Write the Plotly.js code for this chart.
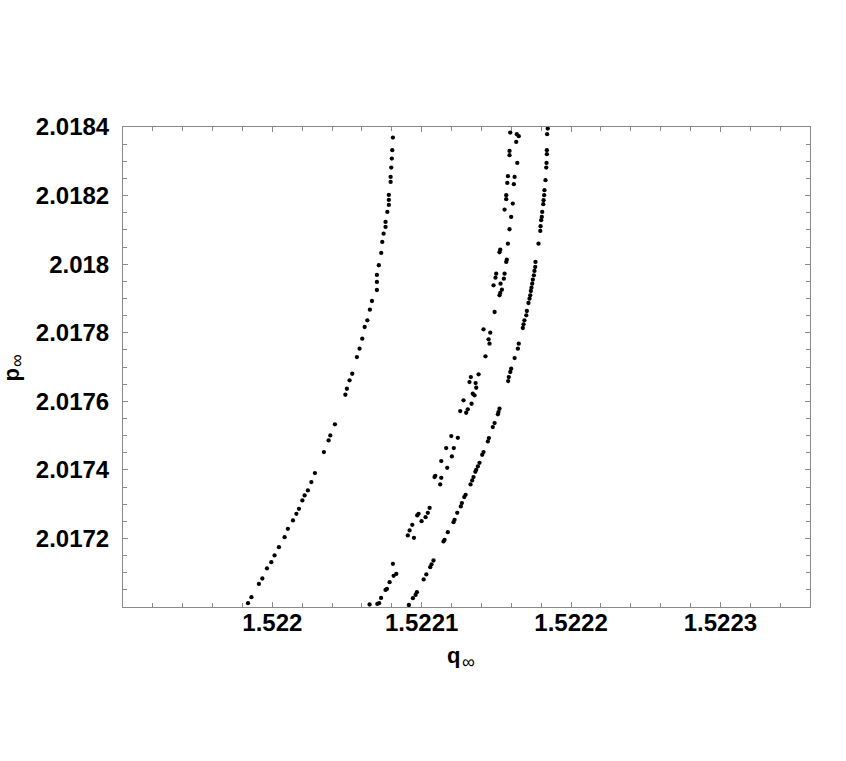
<!DOCTYPE html>
<html>
<head>
<meta charset="utf-8">
<script src="https://cdn.plot.ly/plotly-3.0.1.min.js"></script>
<style>
  html, body { margin: 0; padding: 0; background: #ffffff; }
  #chart { width: 846px; height: 761px; }
</style>
</head>
<body>
<div id="chart"></div>
<script>
// ---- data ----
// left branch
const qLeft = [1.5219837, 1.5219860, 1.5219910, 1.5219933, 1.5219964, 1.5219993, 1.5220015, 1.5220044,
  1.5220082, 1.5220104, 1.5220138, 1.5220161, 1.5220178, 1.5220201, 1.5220216, 1.5220238, 1.5220261,
  1.5220285, 1.5220345, 1.5220377, 1.5220388, 1.5220419, 1.5220489, 1.5220499, 1.5220517, 1.5220535,
  1.5220566, 1.5220584, 1.5220602, 1.5220618, 1.5220636, 1.5220653, 1.5220667, 1.5220700, 1.5220700,
  1.5220700, 1.5220713, 1.5220729, 1.5220736, 1.5220745, 1.5220758, 1.5220758, 1.5220770, 1.5220780,
  1.5220780, 1.5220780, 1.5220792, 1.5220792, 1.5220796, 1.5220800, 1.5220803, 1.5220807];
const pLeft = [2.0170111, 2.0170286, 2.0170674, 2.0170832, 2.0171124, 2.0171308, 2.0171503, 2.0171746,
  2.0172037, 2.0172280, 2.0172525, 2.0172718, 2.0172863, 2.0173109, 2.0173255, 2.0173401, 2.0173643,
  2.0173906, 2.0174519, 2.0174860, 2.0175006, 2.0175327, 2.0176191, 2.0176366, 2.0176611, 2.0176804,
  2.0177291, 2.0177534, 2.0177826, 2.0178167, 2.0178363, 2.0178672, 2.0178926, 2.0179247, 2.0179481,
  2.0179685, 2.0179968, 2.0180327, 2.0180648, 2.0180890, 2.0181086, 2.0181232, 2.0181524, 2.0181728,
  2.0181874, 2.0182020, 2.0182400, 2.0182545, 2.0182817, 2.0183080, 2.0183325, 2.0183693];

// middle (scattered) branch
const qMid = [1.5220651, 1.5220703, 1.5220715, 1.5220728, 1.5220758, 1.5220767, 1.5220785, 1.5220812,
  1.5220830, 1.5220807, 1.5220907, 1.5220948, 1.5220919, 1.5220937, 1.5220970, 1.5220979, 1.5220999,
  1.5221026, 1.5221041, 1.5221053, 1.5221124, 1.5221131, 1.5221086, 1.5221091, 1.5221171, 1.5221131,
  1.5221202, 1.5221164, 1.5221215, 1.5221198, 1.5221242, 1.5221258, 1.5221298, 1.5221309, 1.5221334,
  1.5221280, 1.5221342, 1.5221354, 1.5221365, 1.5221320, 1.5221361, 1.5221329, 1.5221381, 1.5221427,
  1.5221454, 1.5221448, 1.5221459, 1.5221414, 1.5221488, 1.5221521, 1.5221526, 1.5221537, 1.5221481,
  1.5221528, 1.5221550, 1.5221494, 1.5221499, 1.5221555, 1.5221566, 1.5221570, 1.5221521, 1.5221526,
  1.5221577, 1.5221588, 1.5221599, 1.5221555, 1.5221610, 1.5221566, 1.5221566, 1.5221617, 1.5221573,
  1.5221622, 1.5221577, 1.5221640, 1.5221588, 1.5221588, 1.5221633, 1.5221650, 1.5221637, 1.5221593];
const pMid = [2.0170073, 2.0170090, 2.0170111, 2.0170266, 2.0170499, 2.0170528, 2.0170724, 2.0170908,
  2.0170966, 2.0171258, 2.0172087, 2.0172017, 2.0172233, 2.0172396, 2.0172671, 2.0172718, 2.0172504,
  2.0172621, 2.0172747, 2.0172893, 2.0173576, 2.0173768, 2.0173789, 2.0173827, 2.0174060, 2.0174256,
  2.0174393, 2.0174635, 2.0174635, 2.0174986, 2.0174936, 2.0175715, 2.0175666, 2.0175765, 2.0175928,
  2.0176028, 2.0176220, 2.0176174, 2.0176395, 2.0176562, 2.0176533, 2.0176708, 2.0176786, 2.0177312,
  2.0177680, 2.0177808, 2.0178001, 2.0178100, 2.0178605, 2.0179092, 2.0179160, 2.0179256, 2.0179384,
  2.0179431, 2.0179577, 2.0179606, 2.0179723, 2.0179723, 2.0180064, 2.0180132, 2.0180348, 2.0180423,
  2.0180599, 2.0181019, 2.0181378, 2.0181591, 2.0181766, 2.0181895, 2.0182011, 2.0182332, 2.0182370,
  2.0182545, 2.0182566, 2.0182954, 2.0183179, 2.0183304, 2.0183567, 2.0183733, 2.0183792, 2.0183839];

// right branch
const qRight = [1.5220914, 1.5220941, 1.5220959, 1.5220968, 1.5221013, 1.5221031, 1.5221057, 1.5221066,
  1.5221079, 1.5221146, 1.5221153, 1.5221175, 1.5221213, 1.5221220, 1.5221238, 1.5221262, 1.5221269,
  1.5221285, 1.5221294, 1.5221327, 1.5221338, 1.5221347, 1.5221359, 1.5221365, 1.5221376, 1.5221387,
  1.5221405, 1.5221414, 1.5221443, 1.5221450, 1.5221476, 1.5221488, 1.5221510, 1.5221514, 1.5221521,
  1.5221579, 1.5221583, 1.5221593, 1.5221599, 1.5221622, 1.5221644, 1.5221650, 1.5221677, 1.5221682,
  1.5221688, 1.5221700, 1.5221704, 1.5221715, 1.5221722, 1.5221727, 1.5221731, 1.5221735, 1.5221740,
  1.5221744, 1.5221751, 1.5221755, 1.5221760, 1.5221762, 1.5221782, 1.5221794, 1.5221796, 1.5221800,
  1.5221804, 1.5221807, 1.5221814, 1.5221816, 1.5221820, 1.5221822, 1.5221829, 1.5221834, 1.5221836,
  1.5221838, 1.5221838, 1.5221840, 1.5221844];
const pRight = [2.0170061, 2.0170257, 2.0170353, 2.0170432, 2.0170803, 2.0170949, 2.0171162, 2.0171241,
  2.0171357, 2.0171912, 2.0171959, 2.0172183, 2.0172475, 2.0172542, 2.0172747, 2.0172934, 2.0173030,
  2.0173205, 2.0173272, 2.0173576, 2.0173692, 2.0173789, 2.0173943, 2.0174002, 2.0174101, 2.0174206,
  2.0174440, 2.0174519, 2.0174831, 2.0174927, 2.0175248, 2.0175365, 2.0175619, 2.0175686, 2.0175782,
  2.0176591, 2.0176708, 2.0176854, 2.0176950, 2.0177262, 2.0177534, 2.0177680, 2.0178138, 2.0178246,
  2.0178363, 2.0178509, 2.0178634, 2.0178868, 2.0178993, 2.0179092, 2.0179218, 2.0179314, 2.0179431,
  2.0179548, 2.0179676, 2.0179802, 2.0179918, 2.0180064, 2.0180599, 2.0180969, 2.0181106, 2.0181282,
  2.0181378, 2.0181524, 2.0181749, 2.0181865, 2.0182011, 2.0182157, 2.0182449, 2.0182817, 2.0182954,
  2.0183208, 2.0183325, 2.0183792, 2.0183955];

// axis ticks and titles
const xTickVals = [1.522, 1.5221, 1.5222, 1.5223];
const xTickText = ["1.522", "1.5221", "1.5222", "1.5223"];
const yTickVals = [2.0172, 2.0174, 2.0176, 2.0178, 2.018, 2.0182, 2.0184];
const yTickText = ["2.0172", "2.0174", "2.0176", "2.0178", "2.018", "2.0182", "2.0184"];
const xTitleMain = "q", yTitleMain = "p", titleSub = "∞";

// ---- drawing ----
const FONT = "Liberation Sans, Arial, Helvetica, sans-serif";
const marker = { color: "#000000", size: 4.3 };
function series(x, y) {
  return { type: "scatter", mode: "markers", x: x, y: y, marker: marker,
           hoverinfo: "skip", showlegend: false, cliponaxis: true };
}
const traces = [series(qLeft, pLeft), series(qMid, pMid), series(qRight, pRight)];

const GRAY = "#8a8a8a";
const axisCommon = {
  showline: true, linecolor: GRAY, linewidth: 1, mirror: "ticks",
  ticks: "inside", ticklen: 5, tickcolor: GRAY, tickwidth: 1,
  showgrid: false, zeroline: false, tickmode: "array",
  tickfont: { family: FONT, size: 24, color: "#000000", weight: "bold" },
  automargin: false
};

const mainFont = { family: FONT, size: 22, color: "#000000", weight: "bold" };
const subFont = { family: FONT, size: 18, color: "#000000" };
function note(text, x, y, xanchor, yanchor, font, angle) {
  return { text: text, xref: "paper", yref: "paper", x: x, y: y, borderpad: 0,
           xanchor: xanchor, yanchor: yanchor, textangle: angle, showarrow: false, font: font };
}

const layout = {
  width: 846, height: 761,
  paper_bgcolor: "#ffffff", plot_bgcolor: "#ffffff",
  margin: { l: 123, r: 36, t: 127, b: 154 },
  showlegend: false,
  xaxis: Object.assign({}, axisCommon, {
    range: [1.5219, 1.52236],
    tickvals: xTickVals, ticktext: xTickText,
    minor: { tick0: 1.522, dtick: 0.00002, ticks: "inside", ticklen: 4, tickcolor: GRAY, showgrid: false },
    ticklabelstandoff: -6
  }),
  yaxis: Object.assign({}, axisCommon, {
    range: [2.017, 2.0184001],
    tickvals: yTickVals, ticktext: yTickText,
    minor: { tick0: 2.017, dtick: 0.00005, ticks: "inside", ticklen: 4, tickcolor: GRAY, showgrid: false },
    ticklabelstandoff: 8
  }),
  annotations: [
    note(xTitleMain, 0.4920, -0.1006, "right", "middle", mainFont, 0),
    note(titleSub, 0.4920, -0.1146, "left", "middle", subFont, 0),
    note(yTitleMain, -0.163, 0.498, "center", "top", mainFont, -90),
    note(titleSub, -0.1536, 0.498, "center", "bottom", subFont, -90)
  ]
};

Plotly.newPlot("chart", traces, layout, { displayModeBar: false, staticPlot: true });
</script>
</body>
</html>
